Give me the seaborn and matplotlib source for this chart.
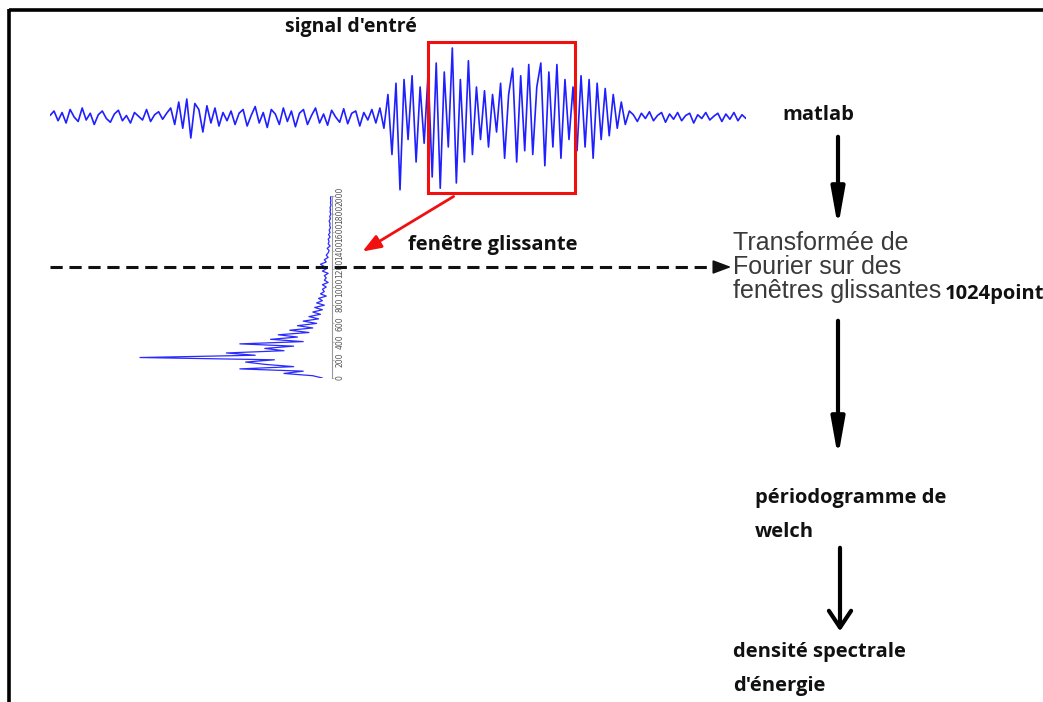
import numpy as np
import seaborn as sns
import matplotlib.pyplot as plt
from matplotlib.patches import Rectangle

sns.set_theme(style='white')
plt.rcParams['font.family'] = ['Open Sans', 'DejaVu Sans']

W, H = 1043, 702

# input signal (arbitrary units, one sample every ~4 px)
signal = [
    0.02, 0.08, -0.05, 0.06, -0.08, 0.1, 0.0, -0.06, 0.12, -0.04,
    0.05, -0.1, 0.03, 0.08, -0.02, -0.07, 0.04, 0.09, -0.05, 0.02,
    -0.08, 0.06, 0.01, -0.04, 0.1, -0.06, 0.03, 0.07, -0.03, 0.05,
    0.12, -0.1, 0.2, -0.15, 0.24, -0.28, 0.18, 0.1, -0.2, 0.15,
    -0.08, 0.12, -0.12, 0.06, -0.05,
    0.08, -0.1, 0.05, 0.1, -0.12, 0.02, 0.14, -0.08, 0.06, -0.14,
    0.1, 0.04, -0.1, 0.12, -0.06, 0.08, -0.13, 0.05, 0.1, -0.1,
    0.02, 0.12, -0.08, 0.04, -0.11, 0.09, 0.0, -0.07, 0.11, -0.09,
    0.05, 0.08, -0.12, 0.06, -0.04, 0.1, -0.08, 0.12, -0.15,
    0.3, -0.5, 0.45, -0.97, 0.5, -0.3, 0.55, -0.6, 0.4, -0.35, 0.6,
    -0.8, 0.72, -0.95, 0.6, -0.4, 0.92, -0.88, 0.5, -0.6, 0.75,
    -0.5, 0.4, -0.3, 0.35, -0.4, 0.3, -0.2, 0.45, -0.55, 0.3,
    0.65, -0.6, 0.55, -0.45, 0.7, -0.5, 0.4, 0.72, -0.65, 0.6,
    -0.4, 0.7, -0.55, 0.5, -0.3, 0.4,
    -0.45, 0.55, -0.4, 0.5, -0.55, 0.45, -0.3, 0.38, -0.25, 0.3,
    -0.15, 0.2, -0.1, 0.08,
    0.03, -0.06, 0.05, -0.02, 0.07, -0.05, 0.02, 0.06, -0.07, 0.04,
    -0.03, 0.06, -0.05, 0.02, 0.05, -0.08, 0.03, -0.02, 0.06, -0.04,
    0.01, 0.05, -0.06, 0.04, -0.03, 0.06, -0.05, 0.03, -0.02,
]

# spectrum of the sliding window (relative amplitude, 25 Hz bins from 0)
spectrum = [
    0.05, 0.1, 0.25, 0.15, 0.48, 0.2, 0.35, 0.45, 0.3, 1.0,
    0.4, 0.55, 0.25, 0.35, 0.2, 0.48, 0.15, 0.32, 0.18, 0.28,
    0.12, 0.22, 0.1, 0.18, 0.08, 0.15, 0.07, 0.12, 0.06, 0.1,
    0.05, 0.09, 0.04, 0.08, 0.05, 0.07, 0.03, 0.06, 0.04, 0.05,
    0.03, 0.05, 0.02, 0.04, 0.03, 0.04, 0.02, 0.05, 0.03, 0.04,
    0.06, 0.03, 0.04, 0.02, 0.03, 0.02, 0.015, 0.025, 0.01, 0.02,
    0.015, 0.02, 0.01, 0.018, 0.01, 0.015, 0.008, 0.012, 0.01, 0.015,
    0.008, 0.012, 0.006, 0.01, 0.008, 0.01, 0.005, 0.008, 0.006, 0.008,
    0.005,
]
freqs = [25 * i for i in range(len(spectrum))]
spec_ticks = [0, 200, 400, 600, 800, 1000, 1200, 1400, 1600, 1800, 2000]

fig = plt.figure(figsize=(W / 100, H / 100), dpi=100)
fig.patch.set_facecolor('white')

# input signal strip
ax_sig = fig.add_axes([50 / W, (H - 192) / H, 696 / W, 150 / H])
sns.lineplot(x=np.arange(len(signal)), y=signal, ax=ax_sig,
             color='#1f1fff', lw=1.2)
ax_sig.set_xlim(0, len(signal) - 1)
ax_sig.set_ylim(-1, 1)
ax_sig.axis('off')
ax_sig.patch.set_alpha(0)

# rotated spectrum of the window
ax_sp = fig.add_axes([130 / W, (H - 378) / H, 202 / W, 182 / H])
sns.lineplot(x=spectrum, y=freqs, ax=ax_sp, sort=False, estimator=None,
             color='#2a2aff', lw=0.9)
ax_sp.set_xlim(1.052, 0)
ax_sp.set_ylim(0, 2000)
ax_sp.patch.set_alpha(0)
for s in ['top', 'left', 'bottom']:
    ax_sp.spines[s].set_visible(False)
ax_sp.spines['right'].set_color('#999999')
ax_sp.spines['right'].set_linewidth(0.8)
ax_sp.set_xticks([])
ax_sp.yaxis.tick_right()
ax_sp.set_yticks(spec_ticks)
ax_sp.set_yticklabels([str(t) for t in spec_ticks], rotation=90,
                      va='center', family='DejaVu Sans')
ax_sp.tick_params(axis='y', labelsize=5.5, labelcolor='#555555', color='#999999',
                  length=1.5, width=0.5, pad=1, right=True)
ax_sp.set_xlabel('')
ax_sp.set_ylabel('')

# overlay for the diagram (pixel coordinates)
ax = fig.add_axes([0, 0, 1, 1])
ax.set_xlim(0, W)
ax.set_ylim(H, 0)
ax.axis('off')
ax.patch.set_alpha(0)

# frame
ax.plot([8.5, W], [9.5, 9.5], color='black', lw=2.6, solid_capstyle='butt')
ax.plot([8.5, 8.5], [8.5, H], color='black', lw=2.6, solid_capstyle='butt')

# window box and its arrow
ax.add_patch(Rectangle((428, 42), 147, 151, fill=False, ec='#f01010', lw=2.2))
ax.annotate('', xy=(360, 253), xytext=(456, 195),
            arrowprops=dict(arrowstyle='-|>,head_length=0.8,head_width=0.3',
                            color='#f01010', lw=2, mutation_scale=14))

# dashed time line
ax.plot([50, 722], [267, 267], color='#111111', lw=2.2, ls=(0, (4, 2.2)))
ax.annotate('', xy=(734, 267), xytext=(718, 267),
            arrowprops=dict(arrowstyle='-|>,head_length=0.8,head_width=0.3',
                            color='#111111', lw=1.2, mutation_scale=14))

# flow arrows
ax.annotate('', xy=(838, 230), xytext=(838, 134),
            arrowprops=dict(arrowstyle='-|>,head_length=1.4,head_width=0.25',
                            color='black', lw=3, mutation_scale=16))
ax.annotate('', xy=(838, 460), xytext=(838, 318),
            arrowprops=dict(arrowstyle='-|>,head_length=1.4,head_width=0.25',
                            color='black', lw=3, mutation_scale=16))
ax.annotate('', xy=(840, 634), xytext=(840, 545),
            arrowprops=dict(arrowstyle='->,head_length=0.6,head_width=0.4',
                            color='black', lw=3, mutation_scale=20))

bold = dict(fontweight='bold', color='#111111', va='baseline', ha='left',
            fontsize=14.5)
ax.text(285, 32, "signal d'entré", fontsize=14, **{k: v for k, v in bold.items() if k != 'fontsize'})
ax.text(782, 120, 'matlab', **bold)
ax.text(408, 250, 'fenêtre glissante', **bold)
ax.text(945, 299, '1024point', **bold)
ax.text(755, 503, 'périodogramme de', **bold)
ax.text(755, 537, 'welch', **bold)
ax.text(733, 657, 'densité spectrale', **bold)
ax.text(733, 691, "d'énergie", **bold)

plain = dict(family='Liberation Sans', color='#3a3a3a', va='baseline',
             ha='left', fontsize=18)
ax.text(733, 250, 'Transformée de', **plain)
ax.text(733, 274, 'Fourier sur des', **plain)
ax.text(733, 298, 'fenêtres glissantes', **plain)

fig.savefig('out.png', dpi=100, facecolor='white')
